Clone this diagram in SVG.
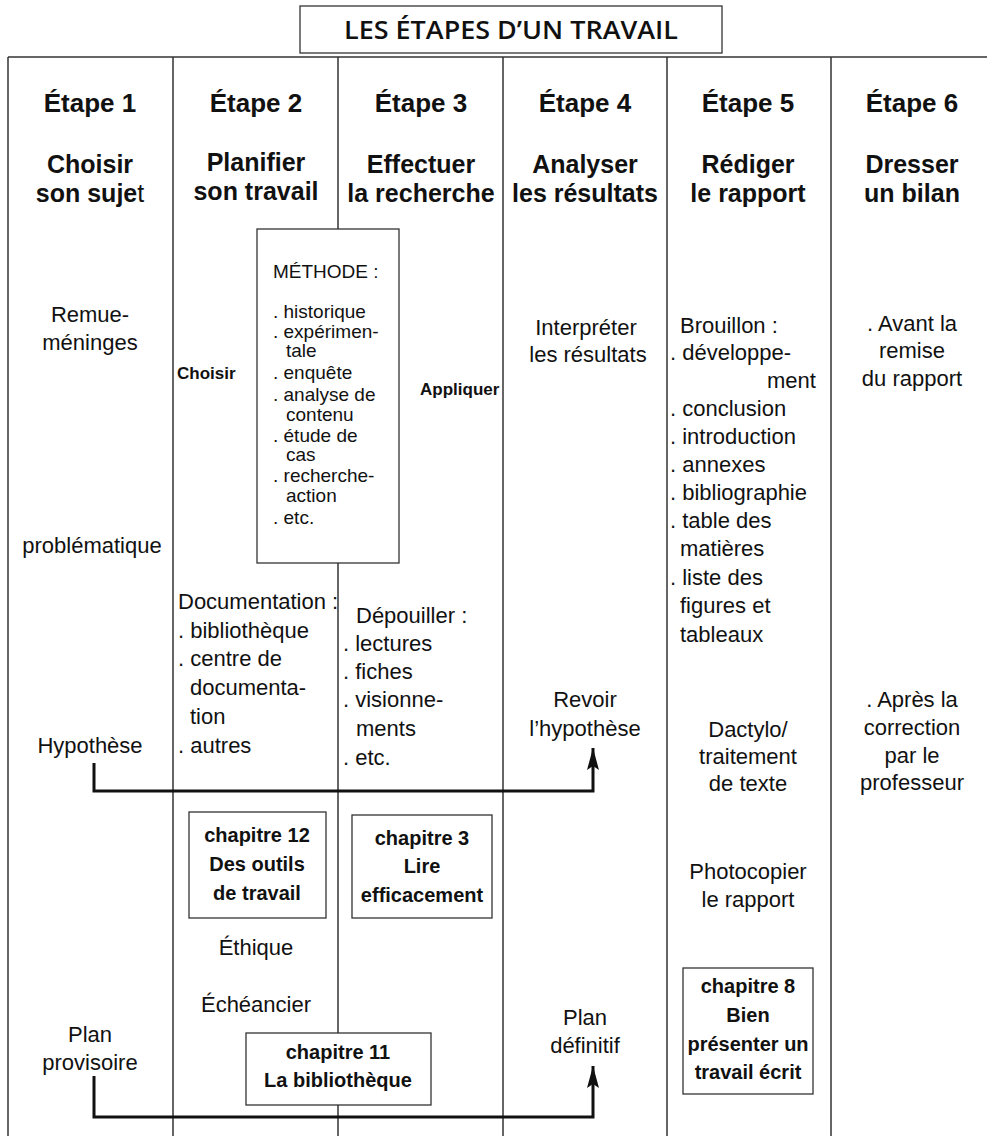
<svg xmlns="http://www.w3.org/2000/svg" width="987" height="1136" viewBox="0 0 987 1136">
<defs>
<style>
text{font-family:"Liberation Sans",Arial,sans-serif;fill:#111}
.t{font-size:22px}
.c{text-anchor:middle}
.h{font-size:25px;font-weight:bold;text-anchor:middle}
.h1{font-size:26px;font-weight:bold;text-anchor:middle}
.m{font-size:19px}
.sb{font-size:17px;font-weight:bold}
.ch{font-size:20px;font-weight:bold;text-anchor:middle}
.title{font-family:"Open Sans","Liberation Sans",sans-serif;font-size:25px;font-weight:600;text-anchor:middle}
.grid{stroke:#333;stroke-width:1.5;fill:none}
.box{stroke:#333;stroke-width:1.3;fill:#fff}
.conn{stroke:#111;stroke-width:3;fill:none}
</style>
<marker id="ah" markerUnits="userSpaceOnUse" markerWidth="22" markerHeight="12" viewBox="0 0 22 12" refX="22" refY="6" orient="auto">
<path d="M0,0 L22,6 L0,12 L4,6 z" fill="#111"/>
</marker>
</defs>

<g id="title">
<rect class="box" x="300" y="6" width="422" height="47"/>
<text class="title" x="511" y="39" textLength="334" lengthAdjust="spacingAndGlyphs">LES ÉTAPES D’UN TRAVAIL</text>
</g>

<g id="grid">
<line class="grid" x1="8" y1="57" x2="987" y2="57"/>
<line class="grid" x1="8" y1="57" x2="8" y2="1136"/>
<line class="grid" x1="173" y1="57" x2="173" y2="1136"/>
<line class="grid" x1="338" y1="57" x2="338" y2="1136"/>
<line class="grid" x1="503" y1="57" x2="503" y2="1136"/>
<line class="grid" x1="667" y1="57" x2="667" y2="1136"/>
<line class="grid" x1="831" y1="57" x2="831" y2="1136"/>
</g>

<g id="connectors">
<path class="conn" d="M94,763 V791 H593 V748" marker-end="url(#ah)"/>
<path class="conn" d="M94,1076 V1117 H593 V1066" marker-end="url(#ah)"/>
</g>

<g id="etape1">
<text class="h1" x="90" y="112">Étape 1</text>
<text class="h" x="90" y="173">Choisir</text>
<text class="h" x="90" y="202">son suje<tspan font-weight="normal">t</tspan></text>
<text class="t c" x="90" y="322">Remue-</text>
<text class="t c" x="90" y="350">méninges</text>
<text class="t c" x="92" y="553">problématique</text>
<text class="t c" x="90" y="753">Hypothèse</text>
<text class="t c" x="90" y="1042">Plan</text>
<text class="t c" x="90" y="1070">provisoire</text>
</g>

<g id="etape2">
<text class="h1" x="256" y="112">Étape 2</text>
<text class="h" x="256" y="171">Planifier</text>
<text class="h" x="256" y="200">son travail</text>
<text class="sb" x="177" y="379">Choisir</text>
<text class="t" x="178" y="609">Documentation :</text>
<text class="t" x="178" y="638">. bibliothèque</text>
<text class="t" x="178" y="666">. centre de</text>
<text class="t" x="190" y="695">documenta-</text>
<text class="t" x="190" y="724">tion</text>
<text class="t" x="178" y="753">. autres</text>
<text class="t c" x="256" y="955">Éthique</text>
<text class="t c" x="256" y="1012">Échéancier</text>
</g>

<g id="methode">
<rect class="box" x="257" y="229" width="142" height="334"/>
<text class="m" x="273" y="278">MÉTHODE :</text>
<text class="m" x="273" y="318">. historique</text>
<text class="m" x="273" y="338">. expérimen-</text>
<text class="m" x="286" y="357">tale</text>
<text class="m" x="273" y="379">. enquête</text>
<text class="m" x="273" y="401">. analyse de</text>
<text class="m" x="286" y="421">contenu</text>
<text class="m" x="273" y="442">. étude de</text>
<text class="m" x="286" y="461">cas</text>
<text class="m" x="273" y="482">. recherche-</text>
<text class="m" x="286" y="502">action</text>
<text class="m" x="273" y="524">. etc.</text>
</g>

<g id="chapitre12">
<rect class="box" x="189" y="812" width="137" height="106"/>
<text class="ch" x="257" y="842">chapitre 12</text>
<text class="ch" x="257" y="871">Des outils</text>
<text class="ch" x="257" y="900">de travail</text>
</g>

<g id="etape3">
<text class="h1" x="421" y="112">Étape 3</text>
<text class="h" x="421" y="173">Effectuer</text>
<text class="h" x="421" y="202">la recherche</text>
<text class="sb" x="420" y="395">Appliquer</text>
<text class="t" x="356" y="623">Dépouiller :</text>
<text class="t" x="343" y="651">. lectures</text>
<text class="t" x="343" y="679">. fiches</text>
<text class="t" x="343" y="707">. visionne-</text>
<text class="t" x="356" y="736">ments</text>
<text class="t" x="343" y="765">. etc.</text>
</g>

<g id="chapitre3">
<rect class="box" x="352" y="815" width="140" height="103"/>
<text class="ch" x="422" y="845">chapitre 3</text>
<text class="ch" x="422" y="873">Lire</text>
<text class="ch" x="422" y="902">efficacement</text>
</g>

<g id="chapitre11">
<rect class="box" x="246" y="1033" width="185" height="72"/>
<text class="ch" x="338" y="1059">chapitre 11</text>
<text class="ch" x="338" y="1087">La bibliothèque</text>
</g>

<g id="etape4">
<text class="h1" x="585" y="112">Étape 4</text>
<text class="h" x="585" y="173">Analyser</text>
<text class="h" x="585" y="202">les résultats</text>
<text class="t c" x="586" y="335">Interpréter</text>
<text class="t c" x="588" y="362">les résultats</text>
<text class="t c" x="585" y="707">Revoir</text>
<text class="t c" x="585" y="736">l’hypothèse</text>
<text class="t c" x="585" y="1025">Plan</text>
<text class="t c" x="585" y="1053">définitif</text>
</g>

<g id="etape5">
<text class="h1" x="748" y="112">Étape 5</text>
<text class="h" x="748" y="173">Rédiger</text>
<text class="h" x="748" y="202">le rapport</text>
<text class="t" x="680" y="333">Brouillon :</text>
<text class="t" x="670" y="360">. développe-</text>
<text class="t" x="767" y="388">ment</text>
<text class="t" x="670" y="416">. conclusion</text>
<text class="t" x="670" y="444">. introduction</text>
<text class="t" x="670" y="472">. annexes</text>
<text class="t" x="670" y="500">. bibliographie</text>
<text class="t" x="670" y="528">. table des</text>
<text class="t" x="680" y="556">matières</text>
<text class="t" x="670" y="585">. liste des</text>
<text class="t" x="680" y="613">figures et</text>
<text class="t" x="680" y="642">tableaux</text>
<text class="t c" x="748" y="737">Dactylo/</text>
<text class="t c" x="748" y="764">traitement</text>
<text class="t c" x="748" y="791">de texte</text>
<text class="t c" x="748" y="879">Photocopier</text>
<text class="t c" x="748" y="907">le rapport</text>
</g>

<g id="chapitre8">
<rect class="box" x="683" y="968" width="130" height="126"/>
<text class="ch" x="748" y="993">chapitre 8</text>
<text class="ch" x="748" y="1022">Bien</text>
<text class="ch" x="748" y="1051">présenter un</text>
<text class="ch" x="748" y="1079">travail écrit</text>
</g>

<g id="etape6">
<text class="h1" x="912" y="112">Étape 6</text>
<text class="h" x="912" y="173">Dresser</text>
<text class="h" x="912" y="202">un bilan</text>
<text class="t c" x="912" y="331">. Avant la</text>
<text class="t c" x="912" y="358">remise</text>
<text class="t c" x="912" y="386">du rapport</text>
<text class="t c" x="912" y="707">. Après la</text>
<text class="t c" x="912" y="735">correction</text>
<text class="t c" x="912" y="763">par le</text>
<text class="t c" x="912" y="790">professeur</text>
</g>
</svg>
